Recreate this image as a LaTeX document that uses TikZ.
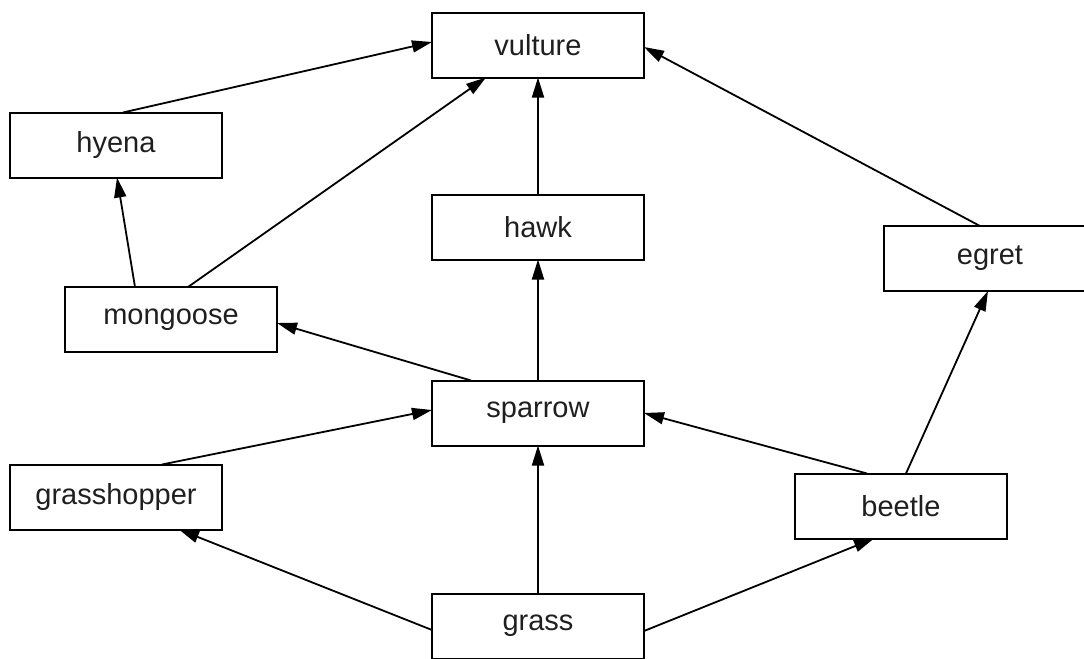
\documentclass[tikz,border=0pt]{standalone}
\usepackage{fontspec}
\setmainfont{Liberation Sans}
\usetikzlibrary{arrows.meta}
\begin{document}
\begin{tikzpicture}[x=0.5pt,y=-0.5pt,
  box/.style={draw, line width=1pt, rectangle, inner sep=0pt, outer sep=0pt,
    minimum width=106pt, minimum height=32.5pt,
    font=\fontsize{14.5}{17}\selectfont, text=black!88},
  link/.style={line width=0.9pt, -{Triangle[length=10pt,width=6pt]}}]
\useasboundingbox (0,0) rectangle (1084,659);
\clip (0,0) rectangle (1084,659);
\node[box] (vulture) at (538,45) {vulture};
\node[box] (hyena) at (116,145) {hyena};
\node[box] (hawk) at (538,227) {hawk};
\node[box] (egret) at (990,258.5) {egret};
\node[box] (mongoose) at (171,319.5) {mongoose};
\node[box] (sparrow) at (538,413) {sparrow};
\node[box] (grasshopper) at (116,497) {grasshopper};
\node[box] (beetle) at (901,506) {beetle};
\node[box] (grass) at (538,626) {grass};
\draw[link] ([xshift=3.5pt]hyena.north) -- ([yshift=1.5pt]vulture.west);
\draw[link] ([xshift=-18pt]mongoose.north) -- ([xshift=0.5pt]hyena.south);
\draw[link] ([xshift=8.5pt]mongoose.north) -- ([xshift=-26pt]vulture.south);
\draw[link] ([xshift=-33.5pt]sparrow.north) -- ([yshift=-1.75pt]mongoose.east);
\draw[link] (sparrow.north) -- (hawk.south);
\draw[link] (hawk.north) -- (vulture.south);
\draw[link] ([xshift=-5pt]egret.north) -- ([yshift=-1pt]vulture.east);
\draw[link] ([xshift=2.5pt]beetle.north) -- ([xshift=-1pt]egret.south);
\draw[link] ([xshift=-17pt]beetle.north) -- (sparrow.east);
\draw[link] ([xshift=23pt]grasshopper.north) -- ([yshift=1.5pt]sparrow.west);
\draw[link] ([yshift=-2pt]grass.west) -- ([xshift=31.5pt]grasshopper.south);
\draw[link] (grass.north) -- (sparrow.south);
\draw[link] ([yshift=-2.5pt]grass.east) -- ([xshift=-13.5pt]beetle.south);
\end{tikzpicture}
\end{document}
